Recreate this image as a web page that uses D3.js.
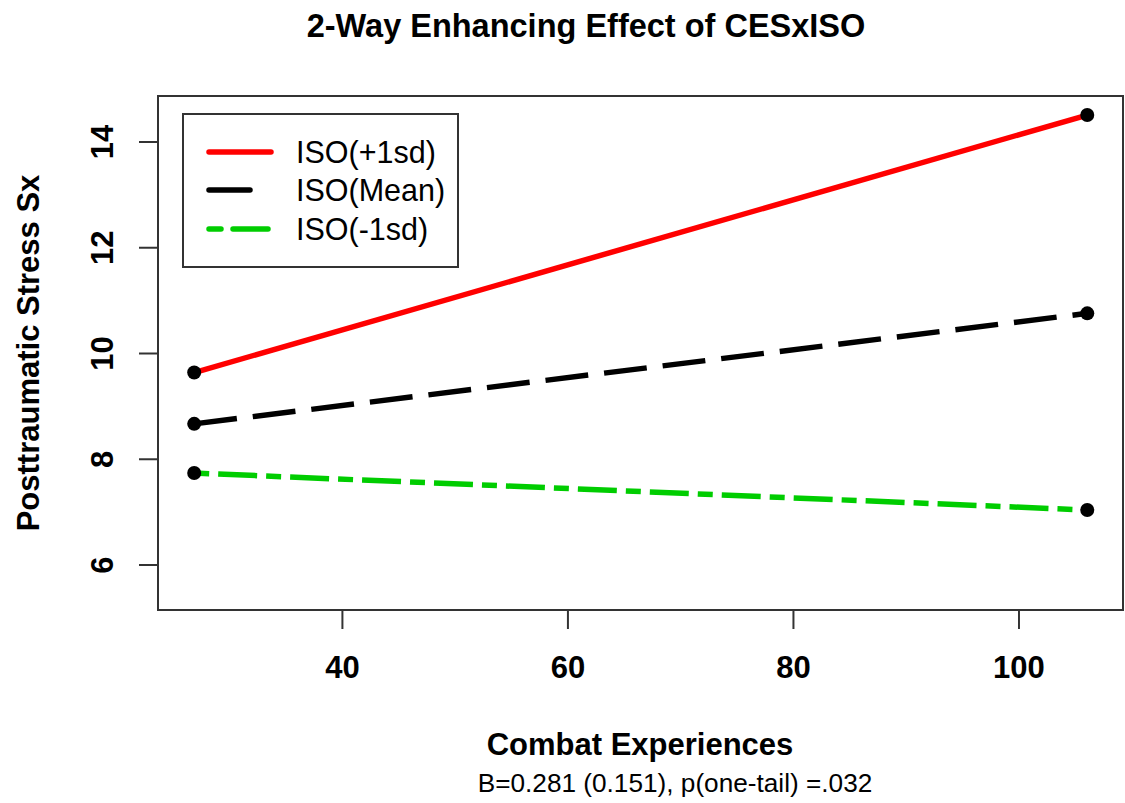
<!DOCTYPE html>
<html>
<head>
<meta charset="utf-8">
<script src="https://cdn.jsdelivr.net/npm/d3@7"></script>
<style>
  html, body { margin: 0; padding: 0; background: #fff; }
  svg { display: block; font-family: "Liberation Sans", Arial, sans-serif; }
</style>
</head>
<body>
<svg id="chart" width="1125" height="803"></svg>
<script>
// ---- data ----
const combatX = [26.9, 106.1];
const seriesNames = ["ISO(+1sd)", "ISO(Mean)", "ISO(-1sd)"];
const isoPlus1sd = [9.63, 14.50];
const isoMean = [8.66, 10.75];
const isoMinus1sd = [7.73, 7.03];
const xTickValues = [40, 60, 80, 100];
const yTickValues = [6, 8, 10, 12, 14];
const titleText = "2-Way Enhancing Effect of CESxISO";
const xLabel = "Combat Experiences";
const yLabel = "Posttraumatic Stress Sx";
const subLabel = "B=0.281 (0.151), p(one-tail) =.032";

// ---- styles ----
const seriesValues = [isoPlus1sd, isoMean, isoMinus1sd];
const seriesColors = ["#ff0000", "#000000", "#00cd00"];
const seriesDash = [null, "43,16", "15,9,39,9"];

const plot = { left: 158, right: 1123, top: 96, bottom: 610 };
const svg = d3.select("#chart");

const x = d3.scaleLinear().domain([23.69, 109.27]).range([plot.left, plot.right]);
const y = d3.scaleLinear().domain([5.14, 14.86]).range([plot.bottom, plot.top]);

// axes
const xAxis = svg.append("g")
  .attr("transform", `translate(0,${plot.bottom})`)
  .call(d3.axisBottom(x).tickValues(xTickValues).tickSize(19).tickFormat(d3.format("d")));
xAxis.select(".domain").remove();
xAxis.selectAll(".tick line").attr("stroke", "#333").attr("stroke-width", 2);
xAxis.selectAll(".tick text")
  .attr("y", 68).attr("dy", 0)
  .attr("fill", "#000")
  .style("font-size", "31px").style("font-weight", "bold")
  .style("font-family", "'Liberation Sans', Arial, sans-serif");

const yAxis = svg.append("g")
  .attr("transform", `translate(${plot.left},0)`)
  .call(d3.axisLeft(y).tickValues(yTickValues).tickSize(19).tickFormat(d3.format("d")));
yAxis.select(".domain").remove();
yAxis.selectAll(".tick line").attr("stroke", "#333").attr("stroke-width", 2);
yAxis.selectAll(".tick text")
  .attr("x", 0).attr("y", 0).attr("dy", 0)
  .attr("transform", "translate(-45,0) rotate(-90)")
  .attr("text-anchor", "middle")
  .attr("fill", "#000")
  .style("font-size", "31px").style("font-weight", "bold")
  .style("font-family", "'Liberation Sans', Arial, sans-serif");

// plot box
svg.append("rect")
  .attr("x", plot.left).attr("y", plot.top)
  .attr("width", plot.right - plot.left).attr("height", plot.bottom - plot.top)
  .attr("fill", "none").attr("stroke", "#333").attr("stroke-width", 2);

// lines
const line = d3.line().x(d => x(d[0])).y(d => y(d[1]));
seriesValues.forEach((vals, i) => {
  const pts = combatX.map((cx, j) => [cx, vals[j]]);
  svg.append("path")
    .datum(pts)
    .attr("d", line)
    .attr("fill", "none")
    .attr("stroke", seriesColors[i])
    .attr("stroke-width", 5.5)
    .attr("stroke-dasharray", seriesDash[i]);
});
seriesValues.forEach((vals) => {
  svg.selectAll(null)
    .data(combatX.map((cx, j) => [cx, vals[j]]))
    .enter().append("circle")
    .attr("cx", d => x(d[0])).attr("cy", d => y(d[1]))
    .attr("r", 7).attr("fill", "#000");
});

// legend
const lg = svg.append("g");
lg.append("rect")
  .attr("x", 183).attr("y", 114).attr("width", 275).attr("height", 153)
  .attr("fill", "#fff").attr("stroke", "#333").attr("stroke-width", 2);
const rowY = [152, 190, 229];
seriesNames.forEach((name, i) => {
  lg.append("line")
    .attr("x1", 209).attr("x2", 271)
    .attr("y1", rowY[i]).attr("y2", rowY[i])
    .attr("stroke", seriesColors[i]).attr("stroke-width", 5.5)
    .attr("stroke-linecap", "round")
    .attr("stroke-dasharray", seriesDash[i] ? (i === 1 ? "41,100" : "12,12,35,100") : null);
  lg.append("text")
    .attr("x", 296).attr("y", rowY[i]).attr("dy", "0.36em")
    .style("font-size", "30.5px")
    .attr("fill", "#000")
    .text(name);
});

// titles
svg.append("text")
  .attr("x", 586).attr("y", 37)
  .attr("text-anchor", "middle")
  .style("font-size", "32.5px").style("font-weight", "bold")
  .text(titleText);

svg.append("text")
  .attr("x", 640).attr("y", 755)
  .attr("text-anchor", "middle")
  .style("font-size", "31px").style("font-weight", "bold")
  .text(xLabel);

svg.append("text")
  .attr("x", 675).attr("y", 792)
  .attr("text-anchor", "middle")
  .style("font-size", "26.2px")
  .text(subLabel);

svg.append("text")
  .attr("transform", `translate(39,${(plot.top + plot.bottom) / 2}) rotate(-90)`)
  .attr("text-anchor", "middle")
  .style("font-size", "31px").style("font-weight", "bold")
  .text(yLabel);
</script>
</body>
</html>
